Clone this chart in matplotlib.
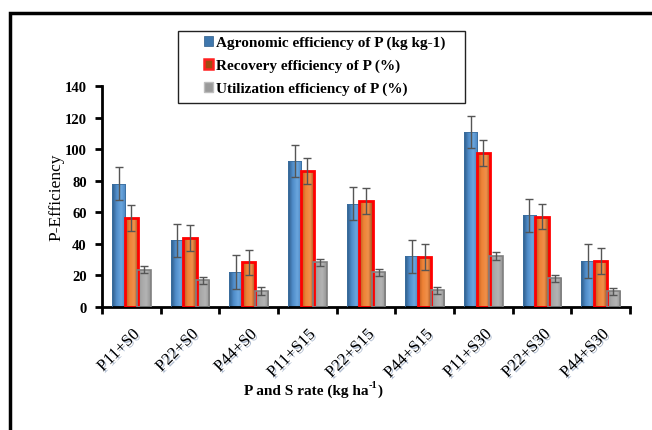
import matplotlib.pyplot as plt
import matplotlib.patheffects as pe
from matplotlib.patches import Rectangle, Patch
from matplotlib.colors import LinearSegmentedColormap
import numpy as np

plt.rcParams['font.family'] = ['Liberation Serif', 'DejaVu Serif']

treatments = ['P11+S0', 'P22+S0', 'P44+S0', 'P11+S15', 'P22+S15', 'P44+S15',
              'P11+S30', 'P22+S30', 'P44+S30']

agronomic = [78.2, 42.3, 22.3, 92.5, 65.5, 32.2, 110.9, 58.1, 29.1]
agronomic_err = [10.4, 10.5, 10.6, 10.1, 10.6, 10.5, 10.1, 10.3, 10.6]
recovery = [56.2, 43.6, 28.2, 86.1, 67.4, 31.6, 97.5, 57.3, 29.1]
recovery_err = [8.1, 8.2, 8.0, 8.0, 8.3, 8.2, 8.0, 8.0, 8.0]
utilization = [23.6, 16.8, 9.9, 28.4, 21.9, 10.5, 32.2, 18.1, 9.9]
utilization_err = [2.3, 2.5, 2.5, 2.3, 2.3, 2.1, 2.5, 2.3, 2.1]

labels = ['Agronomic efficiency of P (kg kg-1)',
          'Recovery efficiency of P (%)',
          'Utilization efficiency of P (%)']

fig = plt.figure(figsize=(6.52, 4.31), dpi=100)
ax = fig.add_axes([102 / 652, 1 - 308 / 431, 528 / 652, 221 / 431])

x = np.arange(len(treatments))
width = 0.23
offsets = [-0.215, 0.0, 0.215]

# gradient fills: dark edge -> light centre -> darker edge
blue_cm = LinearSegmentedColormap.from_list('b', ['#2c5a86', '#4f8cc9', '#6aa6de', '#4b85c0'])
orange_cm = LinearSegmentedColormap.from_list('o', ['#b5561a', '#ee8236', '#f0904a', '#9c4a1a'])
gray_cm = LinearSegmentedColormap.from_list('g', ['#8a8a8a', '#a8a8a8', '#b3b3b3', '#959595'])

series = [
    (agronomic, agronomic_err, blue_cm, '#3b6fa0', 0.6),
    (recovery, recovery_err, orange_cm, '#ff0000', 2.0),
    (utilization, utilization_err, gray_cm, '#808080', 1.2),
]

grad = np.linspace(0, 1, 64).reshape(1, -1)
for (vals, errs, cmap, edge, lw), off in zip(series, offsets):
    bars = ax.bar(x + off, vals, width, color='none', edgecolor=edge,
                  linewidth=lw, zorder=3)
    for b in bars:
        im = ax.imshow(grad, cmap=cmap, aspect='auto', zorder=2,
                       extent=[b.get_x(), b.get_x() + b.get_width(), 0, b.get_height()])
        im.set_clip_path(b)
    ax.errorbar(x + off, vals, yerr=errs, fmt='none', ecolor='#555555',
                elinewidth=1.0, capsize=3, capthick=1.0, zorder=4)

ax.set_xlim(-0.5, 8.5)
ax.set_ylim(0, 140)
ax.set_yticks(np.arange(0, 141, 20))
ax.set_xticks(np.arange(-0.5, 9, 1))
ax.set_xticklabels([])
ax.set_xticks(x, minor=True)
ax.set_xticklabels(treatments, minor=True, rotation=45, ha='right',
                   rotation_mode='anchor', fontsize=12)
ax.tick_params(axis='x', which='minor', length=0, pad=14)
ax.tick_params(axis='x', which='major', length=5, width=2, direction='out')
ax.tick_params(axis='y', length=5, width=2, direction='out', pad=6)

for t in ax.get_yticklabels():
    t.set_fontweight('bold')
    t.set_fontsize(10.5)
for t in ax.get_xticklabels(minor=True):
    t.set_path_effects([pe.SimplePatchShadow(offset=(1.2, -1.2), shadow_rgbFace='#7a8fb0', alpha=0.6),
                        pe.Normal()])

for side in ['top', 'right']:
    ax.spines[side].set_visible(False)
for side in ['left', 'bottom']:
    ax.spines[side].set_linewidth(2)

ax.set_ylabel('P-Efficiency', fontsize=12.5)
ax.yaxis.set_label_coords(-0.072, 0.5)

# x axis title with a hyphen superscript
xl = fig.text(244 / 652, 1 - 391 / 431, 'P and S rate (kg ha',
              fontsize=11, fontweight='bold', ha='left', va='center')
fig.canvas.draw()
bb = xl.get_window_extent()
sup = fig.text(bb.x1 / 652, 1 - 386 / 431, '-1',
               fontsize=7.5, fontweight='bold', ha='left', va='center')
fig.canvas.draw()
bb2 = sup.get_window_extent()
fig.text(bb2.x1 / 652, 1 - 391 / 431, ')',
         fontsize=11, fontweight='bold', ha='left', va='center')

# legend
handles = [Patch(facecolor='#3f77ad', edgecolor='#2c5a86', linewidth=0.5),
           Patch(facecolor='#a04a10', edgecolor='#ff2020', linewidth=1.8),
           Patch(facecolor='#9a9a9a', edgecolor='#bdbdbd', linewidth=1.0)]
fig.legend(handles, labels, loc='upper left', bbox_to_anchor=(204 / 652, 1 - 37 / 431),
           frameon=False, prop={'weight': 'bold', 'size': 11},
           handlelength=0.6, handleheight=0.6, handletextpad=0.2,
           labelspacing=0.62, borderaxespad=0, borderpad=0)
fig.patches.append(Rectangle((178 / 652, 1 - 104 / 431), 287 / 652, 72 / 431,
                             transform=fig.transFigure, fill=False,
                             edgecolor='#222222', linewidth=1.0))

# outer frame running off the right and bottom edges
fig.patches.append(Rectangle((10 / 652, -0.05), 1.0, 1 - 14 / 431 + 0.05,
                             transform=fig.transFigure, fill=False,
                             edgecolor='black', linewidth=2.5))

fig.savefig('out.png', dpi=100)
